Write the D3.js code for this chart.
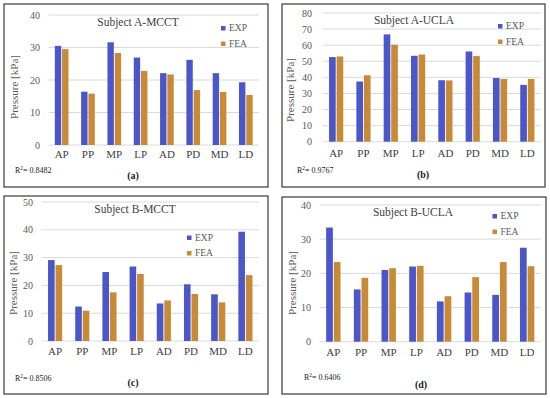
<!DOCTYPE html>
<html>
<head>
<meta charset="utf-8">
<script src="https://cdn.jsdelivr.net/npm/d3@7"></script>
<style>
  body { margin: 0; background: #fff; }
  svg { display: block; font-family: "Liberation Serif", "Times New Roman", serif; }
</style>
</head>
<body>
<svg id="chart" width="550" height="398"></svg>
<script>
// data
const categories = ["AP", "PP", "MP", "LP", "AD", "PD", "MD", "LD"];
const seriesNames = ["EXP", "FEA"];

const aMcctExp = [30.5, 16.4, 31.6, 26.9, 22.1, 26.2, 22.1, 19.3];
const aMcctFea = [29.5, 15.8, 28.3, 22.8, 21.7, 16.9, 16.3, 15.4];

const aUclaExp = [52.6, 37.4, 66.7, 53.4, 38.2, 56.1, 39.6, 35.3];
const aUclaFea = [53.0, 41.3, 60.3, 54.2, 38.1, 53.2, 39.0, 39.0];

const bMcctExp = [29.1, 12.4, 24.8, 26.8, 13.5, 20.4, 16.8, 39.3];
const bMcctFea = [27.3, 10.9, 17.5, 24.1, 14.6, 16.9, 13.9, 23.7];

const bUclaExp = [33.4, 15.3, 21.0, 22.0, 11.8, 14.4, 13.7, 27.5];
const bUclaFea = [23.3, 18.7, 21.5, 22.2, 13.3, 18.9, 23.3, 22.1];

const titles = ["Subject A-MCCT", "Subject A-UCLA", "Subject B-MCCT", "Subject B-UCLA"];
const r2Values = ["0.8482", "0.9767", "0.8506", "0.6406"];
const panelLabels = ["(a)", "(b)", "(c)", "(d)"];
const yMaxes = [40, 80, 50, 40];

const colors = { EXP: "#4b57c9", FEA: "#c98a38" };

// layout of each panel (pixels)
const panels = [
  { box: [4, 4, 264, 183], px: [48.5, 259], py: [145, 15], tickX: 40, titleX: 138, titleY: 26,
    legX: 221, legY: 26, yTitleX: 18, yTitleY: 87, catY: 158, r2X: 15, r2Y: 173, labX: 133, labY: 179,
    exp: aMcctExp, fea: aMcctFea },
  { box: [282, 4, 263, 183], px: [322.5, 541], py: [141.7, 13], tickX: 312, titleX: 414, titleY: 24,
    legX: 498, legY: 24, yTitleX: 294, yTitleY: 90, catY: 157, r2X: 297, r2Y: 173, labX: 423, labY: 178,
    exp: aUclaExp, fea: aUclaFea },
  { box: [4, 196, 264, 198], px: [41.5, 259], py: [341, 202], tickX: 33, titleX: 135, titleY: 213,
    legX: 187, legY: 235.5, yTitleX: 17, yTitleY: 283, catY: 355, r2X: 15, r2Y: 381, labX: 133, labY: 386,
    exp: bMcctExp, fea: bMcctFea },
  { box: [282, 197, 264, 197], px: [319.5, 541], py: [341.7, 205], tickX: 311, titleX: 413, titleY: 216,
    legX: 492.5, legY: 214, yTitleX: 296, yTitleY: 283, catY: 356, r2X: 304, r2Y: 380, labX: 421, labY: 388,
    exp: bUclaExp, fea: bUclaFea }
];

const svg = d3.select("#chart");

panels.forEach((p, i) => {
  const g = svg.append("g");

  // frame
  g.append("rect")
    .attr("x", p.box[0]).attr("y", p.box[1])
    .attr("width", p.box[2]).attr("height", p.box[3])
    .attr("fill", "#fff")
    .attr("stroke", "#474747")
    .attr("stroke-width", 1.3);

  const x0 = d3.scaleBand().domain(categories).range(p.px).paddingInner(0.48).paddingOuter(0.24);
  const x1 = d3.scaleBand().domain(seriesNames).range([0, x0.bandwidth()]).paddingInner(0.12);
  const y = d3.scaleLinear().domain([0, yMaxes[i]]).range(p.py);

  // gridlines + tick labels
  const ticks = d3.range(0, yMaxes[i] + 1, 10);
  g.selectAll(".grid").data(ticks).join("line")
    .attr("x1", p.px[0]).attr("x2", p.px[1])
    .attr("y1", d => y(d)).attr("y2", d => y(d))
    .attr("stroke", "#dadada").attr("stroke-width", 1);
  g.selectAll(".ytick").data(ticks).join("text")
    .attr("x", p.tickX).attr("y", d => y(d) + 3.5)
    .attr("text-anchor", "end")
    .attr("font-size", "10px")
    .attr("fill", "#595959")
    .text(d => d);

  // bars
  const rows = categories.map((c, k) => ({ cat: c, values: [
    { key: "EXP", v: p.exp[k] }, { key: "FEA", v: p.fea[k] }] }));
  g.selectAll(".grp").data(rows).join("g")
    .attr("transform", d => `translate(${x0(d.cat)},0)`)
    .selectAll("rect").data(d => d.values).join("rect")
      .attr("x", d => x1(d.key))
      .attr("width", x1.bandwidth())
      .attr("y", d => y(d.v))
      .attr("height", d => y(0) - y(d.v))
      .attr("fill", d => colors[d.key]);

  // category labels
  g.selectAll(".cat").data(categories).join("text")
    .attr("x", d => x0(d) + x0.bandwidth() / 2)
    .attr("y", p.catY)
    .attr("text-anchor", "middle")
    .attr("font-size", "11px")
    .attr("fill", "#404040")
    .text(d => d);

  // title
  g.append("text")
    .attr("x", p.titleX).attr("y", p.titleY)
    .attr("text-anchor", "middle")
    .attr("font-size", "11.5px")
    .attr("fill", "#404040")
    .text(titles[i]);

  // y title
  g.append("text")
    .attr("transform", `translate(${p.yTitleX},${p.yTitleY}) rotate(-90)`)
    .attr("text-anchor", "middle")
    .attr("font-size", "11px")
    .attr("fill", "#595959")
    .text("Pressure [kPa]");

  // legend
  seriesNames.forEach((s, k) => {
    const ly = p.legY + k * 15.5;
    g.append("rect")
      .attr("x", p.legX).attr("y", ly)
      .attr("width", 4.5).attr("height", 4.5)
      .attr("fill", colors[s]);
    g.append("text")
      .attr("x", p.legX + 8).attr("y", ly + 5)
      .attr("font-size", "9.5px")
      .attr("fill", "#595959")
      .text(s);
  });

  // R² note
  const r2 = g.append("text")
    .attr("x", p.r2X).attr("y", p.r2Y)
    .attr("font-size", "8px")
    .attr("fill", "#222");
  r2.append("tspan").text("R");
  r2.append("tspan").attr("dy", -3).attr("font-size", "5.5px").text("2");
  r2.append("tspan").attr("dy", 3).text("= " + r2Values[i]);

  // panel letter
  g.append("text")
    .attr("x", p.labX).attr("y", p.labY)
    .attr("text-anchor", "middle")
    .attr("font-size", "10px")
    .attr("font-weight", "bold")
    .attr("fill", "#222")
    .text(panelLabels[i]);
});
</script>
</body>
</html>
